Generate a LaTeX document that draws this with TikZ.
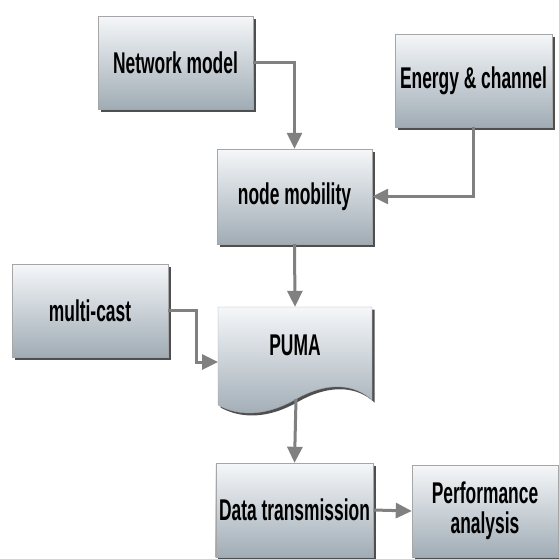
\documentclass[tikz,border=0pt]{standalone}
\usepackage{fontspec}
\newfontfamily\boxfont{Liberation Sans}[FakeStretch=0.58]
\usetikzlibrary{arrows.meta, shadows, backgrounds}

\definecolor{boxtop}{HTML}{F5F7F9}
\definecolor{boxbottom}{HTML}{A0ACB5}
\definecolor{linkgray}{HTML}{808080}
\definecolor{shadowgray}{HTML}{3C3C3C}

\tikzset{
  block/.style = {rectangle, draw=gray!70, top color=boxtop, bottom color=boxbottom,
    minimum width=155pt, minimum height=93pt, align=center,
    font=\boxfont\bfseries\fontsize{30}{30}\selectfont,
    drop shadow={shadow xshift=2.5pt, shadow yshift=-2.5pt, fill=shadowgray, opacity=0.9}},
  doctext/.style = {font=\boxfont\bfseries\fontsize{30}{30}\selectfont,
    minimum width=154pt, minimum height=76pt},
  link/.style = {draw=linkgray, line width=3pt, -{Triangle[length=16pt,width=15pt]}}
}

\begin{document}
\begin{tikzpicture}[x=1pt, y=-1pt]
  \useasboundingbox (0,0) rectangle (559,558);

  % boxes
  \node[block] (netmodel)  at (175.5,62.5)  {Network model};
  \node[block, minimum width=157pt] (energy) at (473.5,80.5) {Energy \& channel};
  \node[block, minimum height=95pt] (mobility) at (294.5,196.5) {node mobility};
  \node[block, minimum width=156pt] (multicast) at (90,310.5) {multi-cast};
  \node[block, minimum height=94pt] (datatx) at (294.5,510) {Data transmission};
  \node[block, minimum width=146pt, minimum height=92pt] (perf) at (485,511)
    {Performance\\analysis};

  % document shape
  \fill[shadowgray, opacity=0.9, shift={(2.5,2.5)}]
    (218,307) -- (372,307) -- (372,400)
    .. controls (355,384) and (328,381) .. (296,399)
    .. controls (265,417) and (238,416) .. (218,405) -- cycle;
  \path[draw=gray!70, top color=boxtop, bottom color=boxbottom]
    (218,307) -- (372,307) -- (372,400)
    .. controls (355,384) and (328,381) .. (296,399)
    .. controls (265,417) and (238,416) .. (218,405) -- cycle;
  \node[doctext] (puma) at (295,345) {PUMA};
  \coordinate (pumain)  at (218,362);
  \coordinate (pumaout) at (296,399);

  % links
  \draw[link] (netmodel.east) -| (mobility.north);
  \draw[link] (energy.south) |- (mobility.east);
  \draw[link] (mobility.south) -- (puma.north);
  \draw[link] (multicast.east) -- ++(28,0) |- (pumain);
  \draw[link] (pumaout) -- (datatx.north);
  \draw[link] (datatx.east) -- (perf.west);

\end{tikzpicture}
\end{document}
